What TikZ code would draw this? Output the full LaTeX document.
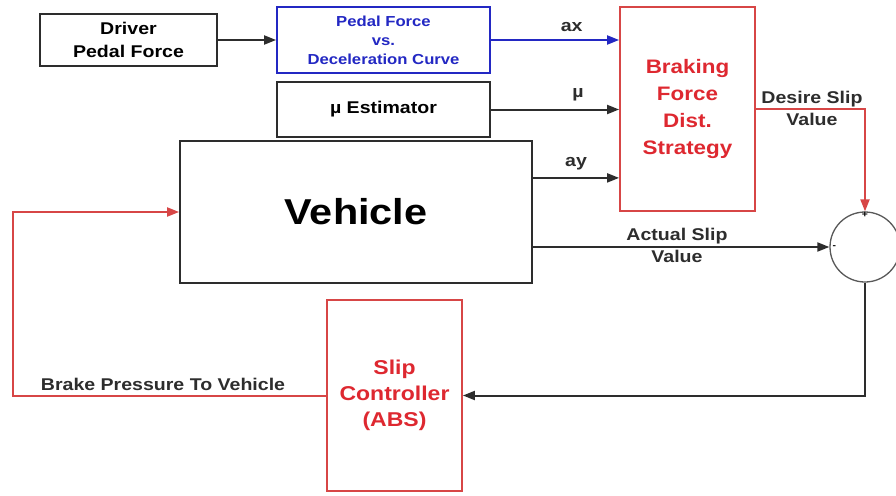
\documentclass[tikz,border=0pt]{standalone}
\usepackage{fontspec}
\usepackage{tikz}
\usetikzlibrary{arrows.meta,positioning}
\newfontfamily\absfamily[FakeStretch=1.15]{Liberation Sans}
\definecolor{absred}{RGB}{222,40,48}
\definecolor{absredline}{RGB}{215,70,70}
\definecolor{absblue}{RGB}{35,40,195}
\definecolor{absgray}{RGB}{45,45,45}
\newcommand{\absfont}[2]{\absfamily\bfseries\fontsize{#1}{#2}\selectfont}

\begin{document}
\begin{tikzpicture}[x=1pt,y=-1pt,
    blk/.style={draw=absgray,line width=1.8pt,align=center,inner sep=0pt},
    sig/.style={draw=absgray,line width=2pt,-{Triangle[length=12pt,width=9pt]}},
    lbl/.style={font=\absfont{17}{22},text=absgray,align=center,inner sep=2pt}]
  \fill[white] (0,0) rectangle (896,495);
  \useasboundingbox (0,0) rectangle (896,495);
  % blocks
  \node[blk,minimum width=177pt,minimum height=52pt,font=\absfont{17}{23}] (drv) at (128.5,40)
        {Driver\\Pedal Force};
  \node[blk,draw=absblue,text=absblue,minimum width=213pt,minimum height=66pt,font=\absfont{14.5}{19}] (pfc) at (383.5,40)
        {Pedal Force\\vs.\\Deceleration Curve};
  \node[blk,minimum width=213pt,minimum height=55pt,font=\absfont{17}{22}] (mue) at (383.5,109.5)
        {µ Estimator};
  \node[blk,minimum width=352pt,minimum height=142pt,font=\absfont{36}{40}] (veh) at (356,212)
        {Vehicle};
  \node[blk,draw=absredline,text=absred,minimum width=135pt,minimum height=204pt,font=\absfont{19.5}{27}] (bfd) at (687.5,109)
        {Braking\\Force\\Dist.\\Strategy};
  \node[blk,draw=absredline,text=absred,minimum width=135pt,minimum height=191pt,font=\absfont{20}{26}] (slc) at (394.5,395.5)
        {Slip\\Controller\\(ABS)};
  \node[circle,draw=gray!70!black,line width=1.3pt,minimum size=70pt,inner sep=0pt] (sum) at (865,247) {};
  \node[below=1pt of sum.north,inner sep=0pt,font=\absfont{9}{9}] (plus) {+};
  \node[right=3pt of sum.west,inner sep=0pt,font=\absfont{9}{9}] (minus) {-};
  % signals
  \draw[sig] (drv.east) -- (pfc.west);
  \draw[sig,draw=absblue] (pfc.east) -- (pfc.east -| bfd.west)
        node[lbl,pos=0.63,above=5pt] {ax};
  \draw[sig] (mue.east) -- (mue.east -| bfd.west)
        node[lbl,pos=0.68,above=5pt] {µ};
  \coordinate (ayin) at ([yshift=34pt]bfd.south west);
  \draw[sig] (veh.east |- ayin) -- (ayin)
        node[lbl,midway,above=5pt] {ay};
  \draw[sig,draw=absredline] (bfd.east) -- (bfd.east -| sum.north) -- (sum.north);
  \node[lbl] (dsv) at (812,108) {Desire Slip\\Value};
  \draw[sig] (veh.east |- sum.west) -- (sum.west);
  \node[lbl] (asv) at (677,245) {Actual Slip\\Value};
  \draw[sig] (sum.south) -- (sum.south |- slc.east) -- (slc.east);
  \coordinate (fbk) at (13,397);
  \draw[sig,draw=absredline] (slc.west) -- (fbk |- slc.west) -- (fbk |- veh.west) -- (veh.west);
  \node[lbl,anchor=south] (bpv) at (163,393) {Brake Pressure To Vehicle};
\end{tikzpicture}
\end{document}
